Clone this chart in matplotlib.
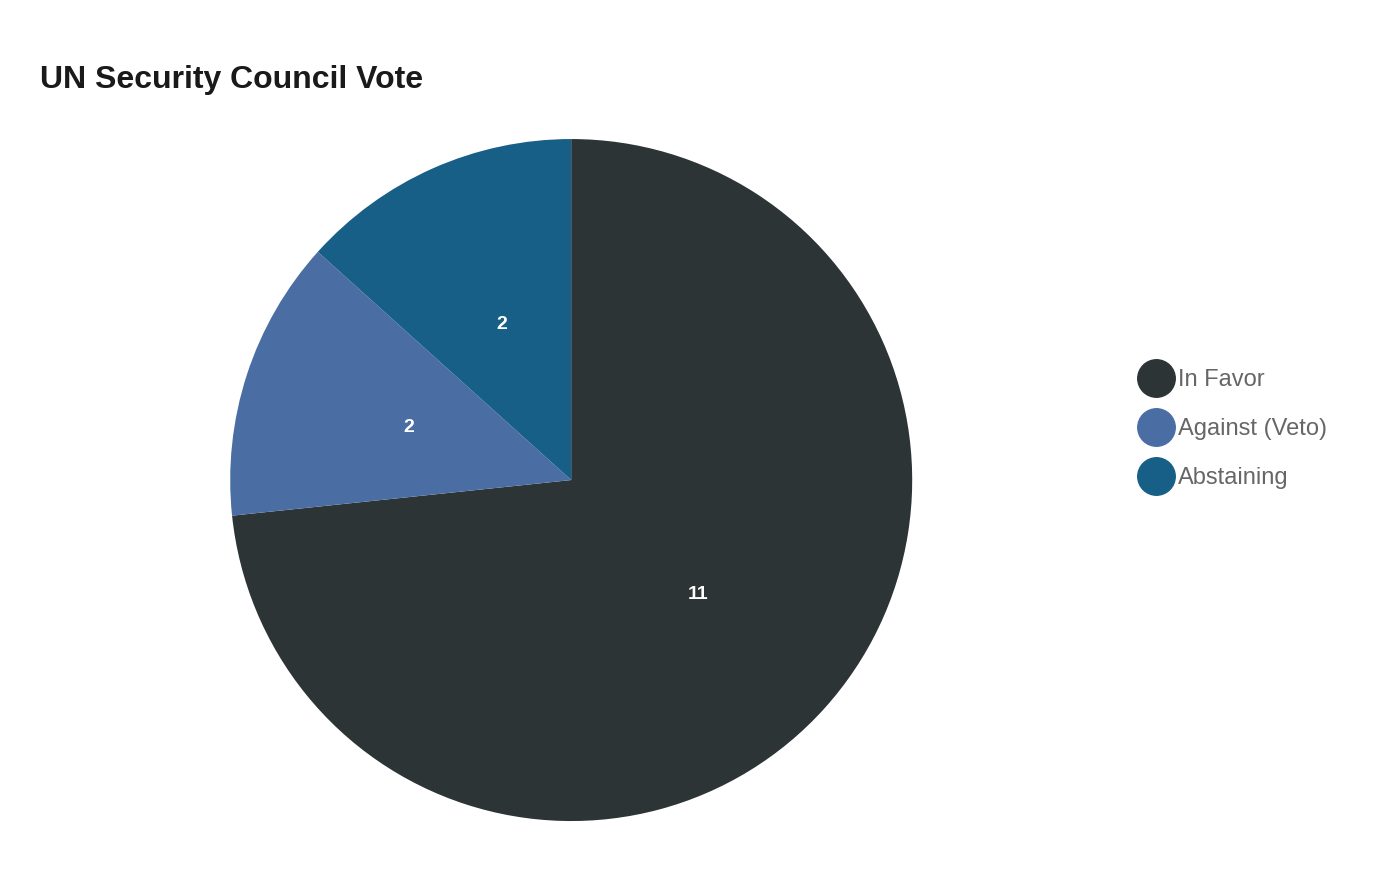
import matplotlib
matplotlib.use("Agg")
import matplotlib.pyplot as plt
from matplotlib.lines import Line2D

plt.rcParams['font.family'] = ['Liberation Sans', 'DejaVu Sans']

labels = ["In Favor", "Against (Veto)", "Abstaining"]
votes = [11, 2, 2]
colors = ["#2d3436", "#4a6ea3", "#185f87"]

fig = plt.figure(figsize=(14, 8.8), dpi=100)
ax = fig.add_axes([0.1644, 0.067, 0.4872, 0.775])

ax.pie(votes, colors=colors, startangle=90, counterclock=False,
       autopct=lambda p: f"{round(p * sum(votes) / 100)}", pctdistance=0.5,
       textprops=dict(color="white", fontsize=14, fontweight="bold"))
ax.set_xlim(-1, 1)
ax.set_ylim(-1, 1)
ax.set_aspect("equal")

fig.text(40 / 1400, 1 - 80 / 880, "UN Security Council Vote", fontsize=23,
         fontweight="bold", color="#1a1a1a", va="center", ha="left")

handles = [Line2D([0], [0], marker='o', linestyle='', markersize=27,
                  markerfacecolor=c, markeredgecolor=c) for c in colors]
fig.legend(handles, labels, loc="center left", bbox_to_anchor=(1112 / 1400, 1 - 429 / 880),
           frameon=False, fontsize=17, labelcolor="#666666", handletextpad=0.0,
           labelspacing=1.15, handlelength=1.9)

fig.savefig("out.png", dpi=100, facecolor="white")
